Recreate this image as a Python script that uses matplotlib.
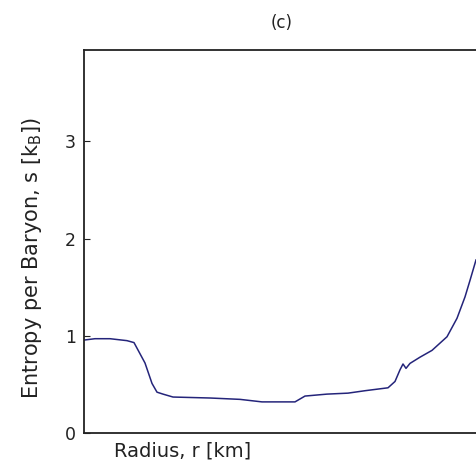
import matplotlib
matplotlib.use("Agg")
import matplotlib.pyplot as plt
import numpy as np

# Radius (arbitrary units, no tick labels in the original) and entropy per baryon
radius = [0, 11, 26, 43, 50, 61, 68, 73, 79, 89, 126, 156, 178, 211, 221, 243,
          264, 281, 304, 311, 316, 319, 322, 326, 336, 348, 363, 373, 381, 386, 392]
entropy = [0.956, 0.97, 0.97, 0.95, 0.93, 0.72, 0.51, 0.42, 0.40, 0.37, 0.36, 0.346,
           0.32, 0.32, 0.38, 0.40, 0.41, 0.435, 0.465, 0.53, 0.65, 0.71, 0.665, 0.716,
           0.78, 0.85, 0.99, 1.18, 1.40, 1.57, 1.78]
yticks = [0, 1, 2, 3]

plt.rcParams['font.family'] = ['DejaVu Sans']

fig = plt.figure(figsize=(4.77, 4.70), dpi=100)
ax = fig.add_axes([84/477, 37/470, 396/477, 383/470])
ax.plot(radius, entropy, color='#24247a', lw=1.1)
ax.set_xlim(0, 396)
ax.set_ylim(0, 3.94)
ax.set_yticks(yticks)
ax.set_xticks([])
ax.tick_params(axis='y', direction='in', length=4, labelsize=12.5, pad=6, colors='#222222')
for s in ax.spines.values():
    s.set_linewidth(1.3)
    s.set_color('#222222')
ax.set_xlabel('Radius, r [km]', fontsize=14, color='#222222')
ax.xaxis.set_label_coords(0.248, -0.022)
ax.set_ylabel('Entropy per Baryon, s [k$_\\mathregular{B}$])', fontsize=15, color='#222222')
ax.yaxis.set_label_coords(-0.1, 0.457)
ax.set_title('(c)', fontsize=12, color='#222222', pad=16)

fig.savefig('out.png', dpi=100)
